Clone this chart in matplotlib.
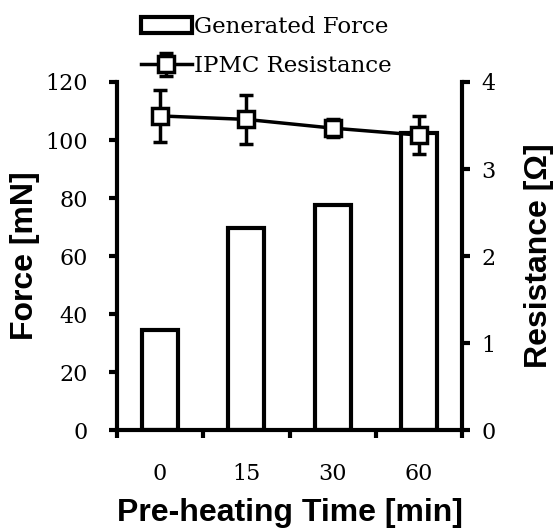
import numpy as np
import matplotlib
matplotlib.use("Agg")
import matplotlib.pyplot as plt
from matplotlib.ticker import FixedLocator

times = ['0', '15', '30', '60']
force = [34.5, 69.5, 77.5, 102.3]
resistance = [3.61, 3.57, 3.47, 3.39]
resistance_err = [0.30, 0.28, 0.10, 0.22]

serif = 'DejaVu Serif'
sans = 'Liberation Sans'

fig = plt.figure(figsize=(5.56, 5.29), dpi=100)
ax = fig.add_axes([0.2104, 0.187, 0.831 - 0.2104, 0.845 - 0.187])
ax2 = ax.twinx()

x = np.arange(len(times))
bars = ax.bar(x, force, width=0.42, facecolor='white', edgecolor='black',
              linewidth=3, label='Generated Force', zorder=2)
ax2.errorbar(x, resistance, yerr=resistance_err, color='black', linewidth=2.5,
             marker='s', markersize=12, markerfacecolor='white',
             markeredgewidth=2.5, elinewidth=2.5, capsize=5, capthick=2.5,
             label='IPMC Resistance', zorder=3)

ax.set_xlim(-0.5, 3.5)
ax.set_ylim(0, 120)
ax2.set_ylim(0, 4)
ax.set_yticks(np.arange(0, 121, 20))
ax2.set_yticks(np.arange(0, 5, 1))
ax.set_xticks(x)
ax.set_xticklabels(times)
ax.xaxis.set_minor_locator(FixedLocator(np.arange(-0.5, 3.6, 1)))
ax.tick_params(axis='x', which='major', length=0, pad=24)
ax.tick_params(axis='x', which='minor', length=6, width=3, direction='out')
ax.tick_params(axis='y', length=6, width=3, direction='out', pad=15)
ax2.tick_params(axis='y', length=6, width=3, direction='out', pad=8)

for a in (ax, ax2):
    a.spines['top'].set_visible(False)
    for s in a.spines.values():
        s.set_linewidth(3)
ax2.spines['left'].set_visible(False)
ax2.spines['bottom'].set_visible(False)
ax.spines['right'].set_visible(False)

for lab in ax.get_xticklabels() + ax.get_yticklabels() + ax2.get_yticklabels():
    lab.set_fontfamily(serif)
    lab.set_fontsize(16)

ax.set_xlabel('Pre-heating Time [min]', fontfamily=sans, fontweight='bold',
              fontsize=23, labelpad=9)
ax.set_ylabel('Force [mN]', fontfamily=sans, fontweight='bold', fontsize=23,
              labelpad=4)
ax2.set_ylabel('Resistance [Ω]', fontfamily=sans, fontweight='bold',
               fontsize=23, labelpad=20)

h1, l1 = ax.get_legend_handles_labels()
h2, l2 = ax2.get_legend_handles_labels()
leg = fig.legend(h1 + h2, l1 + l2, loc='upper left', bbox_to_anchor=(0.225, 1.0),
                 frameon=False, prop={'family': serif, 'size': 16.5},
                 handlelength=2.2, handletextpad=0.1, labelspacing=0.75,
                 borderaxespad=0.3)

fig.savefig('out.png', dpi=100)
